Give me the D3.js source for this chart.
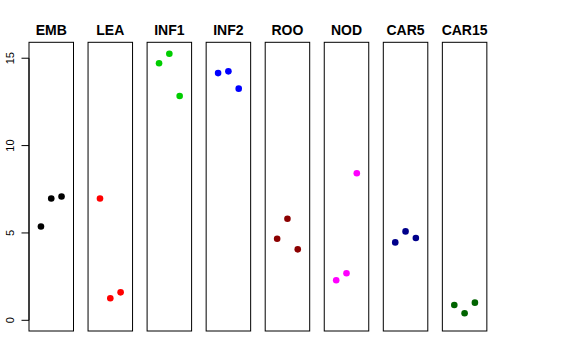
<!DOCTYPE html>
<html><head><meta charset="utf-8">
<script src="https://cdn.jsdelivr.net/npm/d3@7"></script>
<style>body{margin:0;background:#fff}svg{display:block}</style>
</head><body>
<script>
const categories = ["EMB","LEA","INF1","INF2","ROO","NOD","CAR5","CAR15"];
const colors = ["#000000","#FF0000","#00CD00","#0000FF","#8B0000","#FF00FF","#00008B","#006400"];
const xPositions = [1,2,3];
const values = [
  [5.37, 6.97, 7.09],
  [6.97, 1.26, 1.60],
  [14.71, 15.26, 12.84],
  [14.15, 14.25, 13.26],
  [4.67, 5.81, 4.06],
  [2.29, 2.69, 8.42],
  [4.46, 5.09, 4.71],
  [0.88, 0.40, 1.01]
];
const yTicks = [0,5,10,15];

(function(){
const W = 576, H = 360;
const svg = d3.select("body").append("svg").attr("width", W).attr("height", H);

const panelLeft0 = 29, panelStep = 59.05, panelW = 44.5;
const plotTop = 42.3, plotBottom = 331;
const y = d3.scaleLinear().domain([-0.612, 15.912]).range([plotBottom, plotTop]);

// y axis
const ax = svg.append("g");
ax.append("line").attr("x1", panelLeft0).attr("x2", panelLeft0)
  .attr("y1", y(0)).attr("y2", y(15)).attr("stroke", "#000");
yTicks.forEach(t => {
  ax.append("line").attr("x1", panelLeft0 - 7.5).attr("x2", panelLeft0)
    .attr("y1", y(t)).attr("y2", y(t)).attr("stroke", "#000");
  ax.append("text").attr("transform", `translate(13.5,${y(t)}) rotate(-90)`)
    .attr("text-anchor", "middle").attr("font-family", "Liberation Sans, Arial, sans-serif")
    .attr("font-size", 11).text(t);
});

categories.forEach((c, i) => {
  const x0 = panelLeft0 + i * panelStep;
  const x = d3.scaleLinear().domain([-0.16, 4.16]).range([x0, x0 + panelW]);
  const g = svg.append("g");
  g.append("rect").attr("x", x0).attr("y", plotTop).attr("width", panelW).attr("height", plotBottom - plotTop)
    .attr("fill", "none").attr("stroke", "#000").attr("stroke-width", 1);
  g.append("text").attr("x", x0 + panelW / 2).attr("y", 35)
    .attr("text-anchor", "middle").attr("font-family", "Liberation Sans, Arial, sans-serif")
    .attr("font-weight", "bold").attr("font-size", 14).text(c);
  g.selectAll("circle").data(values[i]).join("circle")
    .attr("cx", (d, j) => x(xPositions[j]))
    .attr("cy", d => y(d))
    .attr("r", 3.3)
    .attr("fill", colors[i]);
});
})();
</script>
</body></html>
